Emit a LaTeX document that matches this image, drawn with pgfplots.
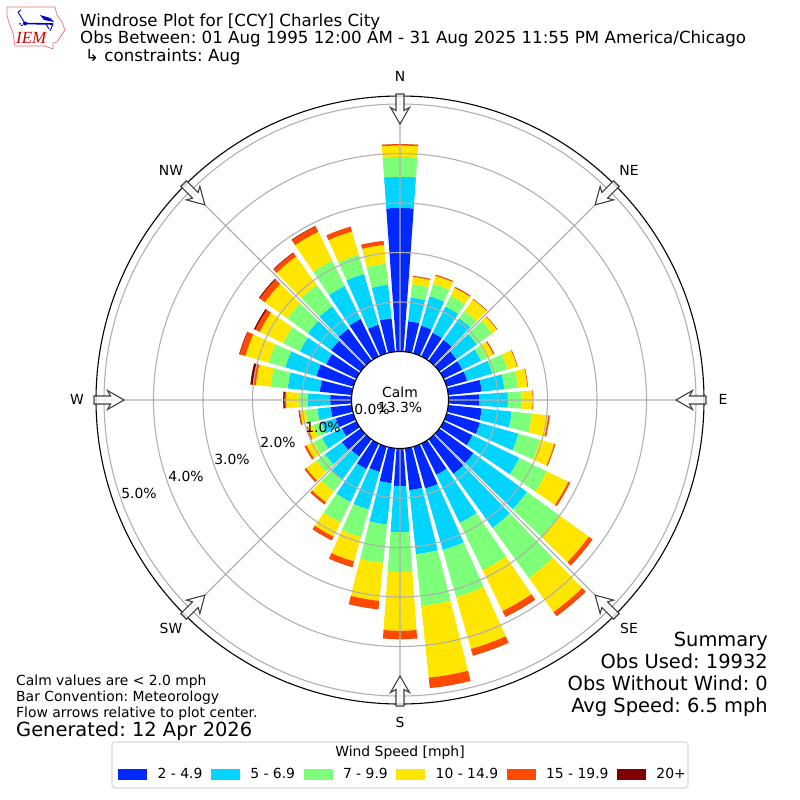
\documentclass[border=0pt]{standalone}
\usepackage{fontspec}
\setmainfont{DejaVu Sans}
\newfontfamily\logofont{Liberation Serif}
\usepackage{pgfplots}
\pgfplotsset{compat=1.18}
\usepgfplotslibrary{polar}
\frenchspacing
\definecolor{sa}{HTML}{0028FF}
\definecolor{sb}{HTML}{00D4FF}
\definecolor{sc}{HTML}{7DFF7A}
\definecolor{sd}{HTML}{FFE600}
\definecolor{se}{HTML}{FF4A00}
\definecolor{sf}{HTML}{7F0000}
\definecolor{gridgray}{HTML}{B0B0B0}
\definecolor{logored}{HTML}{E8707A}
\newcommand\fs[1]{\fontsize{#1bp}{#1bp}\selectfont}
% one wedge: compass direction, inner and outer radius (percent), colour
\newcommand\RoseWedge[4]{%
  \pgfmathsetmacro\ta{450-#1-4.1}\pgfmathsetmacro\tb{450-#1-2}%
  \pgfmathsetmacro\tc{450-#1}\pgfmathsetmacro\td{450-#1+2}\pgfmathsetmacro\te{450-#1+4.1}%
  \edef\temp{\noexpand\addplot[fill=#4,draw=none,forget plot] coordinates {%
    (\ta,#2)(\tb,#2)(\tc,#2)(\td,#2)(\te,#2)(\te,#3)(\td,#3)(\tc,#3)(\tb,#3)(\ta,#3)} -- cycle;}\temp}
% direction, then the cumulative top of each speed class (percent)
\newcommand\RoseBar[7]{%
  \RoseWedge{#1}{0}{#2}{sa}\RoseWedge{#1}{#2}{#3}{sb}\RoseWedge{#1}{#3}{#4}{sc}%
  \RoseWedge{#1}{#4}{#5}{sd}\RoseWedge{#1}{#5}{#6}{se}\RoseWedge{#1}{#6}{#7}{sf}}
\begin{document}
\begin{tikzpicture}[x=1bp,y=-1bp]
\path[use as bounding box] (0,0) rectangle (800,800);
\begin{polaraxis}[
  at={(400bp,-400bp)},anchor=center,
  scale only axis,width=608bp,height=608bp,
  xmin=0,xmax=360,
  y coord trafo/.code={\pgfmathparse{#1+0.9798}},
  ymin=-0.9798,ymax=5.1616,
  xtick={0,45,...,315},ytick={1,2,3,4,5},
  xticklabels={},yticklabels={},
  major tick length=0pt,
  grid=major,
  grid style={draw=gridgray,line width=1.1bp},
  x axis line style={black,line width=1.1bp},
  y axis line style={draw=none},
  axis on top,clip=false,
  legend style={at={(0.5033,-0.1151)},anchor=center,draw=none,fill=none,
    legend columns=6,font=\fs{13.9},
    /tikz/every even column/.append style={column sep=8.5bp},
    /tikz/every odd column/.append style={column sep=11bp},
    nodes={inner xsep=0pt,inner ysep=0pt}},
  legend image code/.code={\fill[#1] (0bp,-5bp) rectangle (28bp,5bp);},
]
\RoseBar{0}{2.90}{3.53}{3.93}{4.16}{4.19}{4.19}
\RoseBar{10}{0.62}{1.10}{1.37}{1.52}{1.54}{1.54}
\RoseBar{20}{0.58}{1.20}{1.46}{1.63}{1.65}{1.65}
\RoseBar{30}{0.53}{1.12}{1.36}{1.54}{1.56}{1.56}
\RoseBar{40}{0.52}{1.06}{1.24}{1.53}{1.54}{1.54}
\RoseBar{50}{0.43}{0.94}{1.32}{1.44}{1.45}{1.45}
\RoseBar{60}{0.42}{0.84}{0.98}{1.12}{1.14}{1.14}
\RoseBar{70}{0.43}{0.96}{1.28}{1.48}{1.49}{1.49}
\RoseBar{80}{0.68}{1.14}{1.42}{1.61}{1.62}{1.62}
\RoseBar{90}{0.62}{1.20}{1.48}{1.70}{1.71}{1.71}
\RoseBar{100}{0.68}{1.29}{1.70}{2.03}{2.06}{2.06}
\RoseBar{110}{0.70}{1.51}{1.96}{2.26}{2.28}{2.28}
\RoseBar{120}{0.65}{1.70}{2.32}{2.80}{2.84}{2.84}
\RoseBar{130}{0.85}{2.19}{2.99}{3.73}{3.82}{3.82}
\RoseBar{140}{0.86}{2.21}{3.46}{4.31}{4.41}{4.41}
\RoseBar{150}{0.70}{1.78}{2.84}{3.76}{3.89}{3.89}
\RoseBar{160}{0.88}{2.17}{3.16}{4.25}{4.39}{4.39}
\RoseBar{170}{0.85}{2.15}{3.20}{4.66}{4.87}{4.87}
\RoseBar{180}{0.76}{1.69}{2.50}{3.68}{3.85}{3.85}
\RoseBar{190}{0.71}{1.55}{2.33}{3.10}{3.27}{3.27}
\RoseBar{200}{0.53}{1.32}{1.90}{2.41}{2.53}{2.53}
\RoseBar{210}{0.57}{1.31}{1.77}{2.09}{2.17}{2.17}
\RoseBar{220}{0.43}{1.02}{1.30}{1.57}{1.62}{1.62}
\RoseBar{230}{0.47}{0.89}{1.11}{1.36}{1.40}{1.40}
\RoseBar{240}{0.33}{0.77}{0.96}{1.12}{1.16}{1.16}
\RoseBar{250}{0.37}{0.67}{0.84}{0.96}{0.98}{0.98}
\RoseBar{260}{0.43}{0.70}{0.94}{1.05}{1.07}{1.08}
\RoseBar{270}{0.43}{0.88}{1.07}{1.32}{1.35}{1.38}
\RoseBar{280}{0.65}{1.30}{1.65}{1.95}{2.01}{2.06}
\RoseBar{290}{0.78}{1.43}{1.78}{2.27}{2.39}{2.40}
\RoseBar{300}{0.68}{1.27}{1.65}{2.17}{2.27}{2.30}
\RoseBar{310}{0.74}{1.32}{1.83}{2.39}{2.52}{2.54}
\RoseBar{320}{0.80}{1.36}{1.89}{2.60}{2.69}{2.70}
\RoseBar{330}{0.84}{1.58}{2.15}{2.80}{2.92}{2.93}
\RoseBar{340}{0.60}{1.67}{2.07}{2.56}{2.66}{2.66}
\RoseBar{350}{0.68}{1.36}{1.79}{2.17}{2.25}{2.25}
\addlegendimage{sa,fill=sa}\addlegendentry{2 - 4.9}
\addlegendimage{sb,fill=sb}\addlegendentry{5 - 6.9}
\addlegendimage{sc,fill=sc}\addlegendentry{7 - 9.9}
\addlegendimage{sd,fill=sd}\addlegendentry{10 - 14.9}
\addlegendimage{se,fill=se}\addlegendentry{15 - 19.9}
\addlegendimage{sf,fill=sf}\addlegendentry{20+}
\end{polaraxis}
% centre circle
\draw[black,line width=1.1bp,fill=white] (400,400) circle (48.5);
\node[font=\fs{13.9},anchor=center] at (400,392) {Calm};
\node[font=\fs{13.9},anchor=center] at (400,407) {13.3\%};
% flow arrows
\foreach \a in {0,45,...,315}{
  \draw[shift={(400,400)},rotate=\a,draw=black!75,line width=1.1bp,fill=white,fill opacity=0.8,line join=miter]
    (-4,-306)--(4,-306)--(4,-289.5)--(9.5,-292.5)--(0,-276)--(-9.5,-292.5)--(-4,-289.5)--cycle;
}
% compass labels
\foreach \t/\x/\y in {N/400/76,NE/629/170,E/723/399,SE/629/628,S/400/722,SW/171/628,W/77/399,NW/171/170}{
  \node[font=\fs{13.9},anchor=center] at (\x,\y) {\t};
}
% ring labels
\foreach \t/\x/\y in {0.0/372/409,1.0/323/427,2.0/278/442,3.0/232/459,4.0/186/476,5.0/139/493}{
  \node[font=\fs{13.9},anchor=center] at (\x,\y) {\t\%};
}
% titles
\node[font=\fs{16.67},anchor=base west,inner sep=0] at (80,26.5) {Windrose Plot for [CCY] Charles City};
\node[font=\fs{16.67},anchor=base west,inner sep=0] at (80,43.5) {Obs Between: 01 Aug 1995 12:00 AM - 31 Aug 2025 11:55 PM America/Chicago};
\node[font=\fs{16.67},anchor=base west,inner sep=0] at (85,62) {↳ constraints: Aug};
% notes
\node[font=\fs{13.9},anchor=base west,inner sep=0] at (16,685) {Calm values are < 2.0 mph};
\node[font=\fs{13.9},anchor=base west,inner sep=0] at (16,701) {Bar Convention: Meteorology};
\node[font=\fs{13.9},anchor=base west,inner sep=0] at (16,717) {Flow arrows relative to plot center.};
\node[font=\fs{19.44},anchor=base west,inner sep=0] at (16,736) {Generated: 12 Apr 2026};
\foreach \t/\y in {Summary/646.5,Obs Used: 19932/668.5,Obs Without Wind: 0/690.5,Avg Speed: 6.5 mph/712.5}{
  \node[font=\fs{19.44},anchor=base east,inner sep=0] at (768,\y) {\t};
}
% legend frame and title
\draw[draw=black!15,line width=1.1bp,rounded corners=3bp] (112,742) rectangle (688,788);
\node[font=\fs{13.9},anchor=center] at (400,753) {Wind Speed [mph]};
% logo
\draw[draw=logored,line width=0.7bp,fill=white]
  (7,7)--(55,7)--(57,15)--(62,22)--(65,30)--(57,42)--(53,43)--(53,49)--(45,46)--(15,46)--(13,33)--(9,23)--(7,15)--cycle;
\draw[blue!80!black,line width=1.6bp] (25,23.5)--(53,24);
\draw[blue!80!black,line width=0.9bp] (25,23.5)--(18,12) (53,24)--(50,31) (46,24)--(49,29) (18,12)--(21,10);
\fill[blue!80!black] (25,23.5) circle (2);
\fill[blue!80!black] (40,15)--(50,18)--(54,22)--(44,20)--cycle;
\fill[blue!80!black] (20,24) circle (1) (22,25.5) circle (1);
\node[font=\logofont\itshape\fs{17},text=red!80!black,anchor=base west,inner sep=0] at (16,44) {IEM};
\end{tikzpicture}
\end{document}
